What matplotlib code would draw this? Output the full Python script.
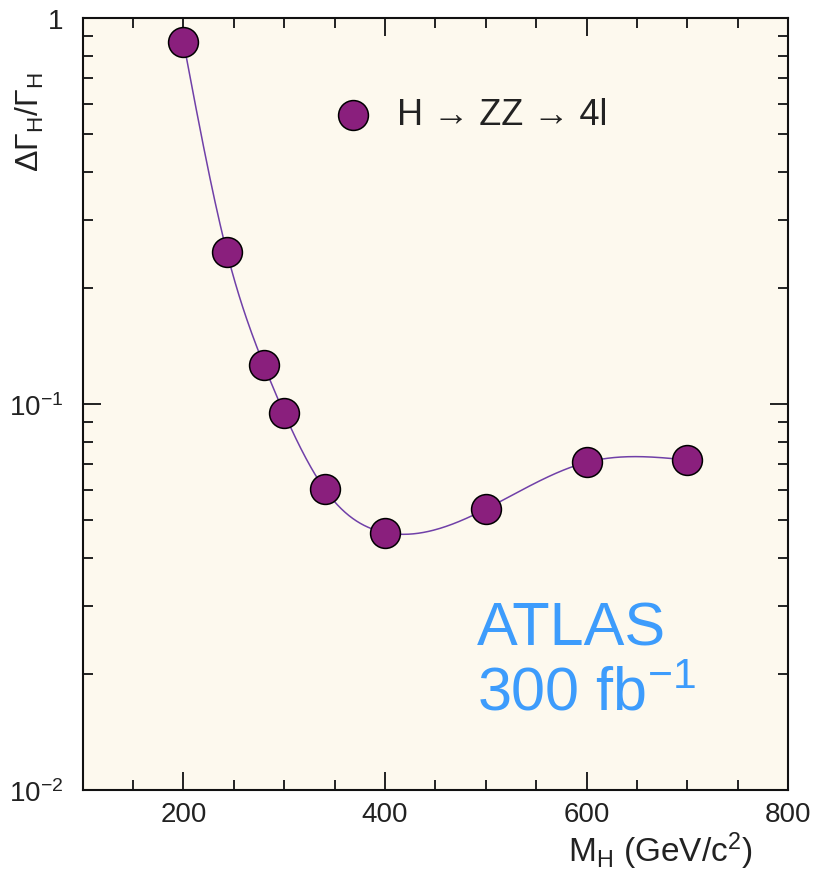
import numpy as np
import matplotlib
matplotlib.use("Agg")
import matplotlib.pyplot as plt
from matplotlib.ticker import FixedLocator, MultipleLocator, LogLocator, NullFormatter

plt.rcParams['font.family'] = ['Liberation Sans', 'DejaVu Sans']
plt.rcParams['mathtext.fontset'] = 'custom'
plt.rcParams['mathtext.rm'] = 'Liberation Sans'
plt.rcParams['mathtext.it'] = 'Liberation Sans:italic'
plt.rcParams['mathtext.bf'] = 'Liberation Sans:bold'

# Higgs mass points (GeV/c^2) and relative width precision for H -> ZZ -> 4l
mass = [200, 243, 280, 300, 340, 400, 500, 600, 700]
rel_width = [0.868, 0.248, 0.126, 0.0947, 0.0603, 0.0465, 0.0535, 0.0707, 0.0717]

x_ticks = [200, 400, 600, 800]
y_ticks = [0.01, 0.1, 1]
y_tick_labels = ["10$^{-2}$", "10$^{-1}$", "1"]


def natural_spline(x, y, xs):
    # natural cubic spline through (x, y), evaluated at xs
    x = np.asarray(x, float)
    y = np.asarray(y, float)
    n = len(x)
    h = np.diff(x)
    A = np.zeros((n, n))
    b = np.zeros(n)
    A[0, 0] = 1
    A[-1, -1] = 1
    for i in range(1, n - 1):
        A[i, i - 1] = h[i - 1]
        A[i, i] = 2 * (h[i - 1] + h[i])
        A[i, i + 1] = h[i]
        b[i] = 6 * ((y[i + 1] - y[i]) / h[i] - (y[i] - y[i - 1]) / h[i - 1])
    M = np.linalg.solve(A, b)
    idx = np.clip(np.searchsorted(x, xs) - 1, 0, n - 2)
    x0, x1 = x[idx], x[idx + 1]
    hh = x1 - x0
    return (M[idx] * (x1 - xs) ** 3 / (6 * hh) + M[idx + 1] * (xs - x0) ** 3 / (6 * hh)
            + (y[idx] / hh - M[idx] * hh / 6) * (x1 - xs)
            + (y[idx + 1] / hh - M[idx + 1] * hh / 6) * (xs - x0))


fig = plt.figure(figsize=(8.14, 8.79), dpi=100)
ax = fig.add_axes([0.1016, 0.100, 0.8666, 0.878])
ax.set_facecolor("#fdf9ee")

# smooth curve through the points (interpolated in log space)
xs = np.linspace(mass[0], mass[-1], 400)
ys = 10 ** natural_spline(mass, np.log10(rel_width), xs)
ax.plot(xs, ys, color="#7040a8", lw=1.1, zorder=2)
ax.plot(mass, rel_width, 'o', ms=21.5, mfc="#8a1f7d", mec="black", mew=1.1, zorder=3)

ax.set_xscale('linear')
ax.set_yscale('log')
ax.set_xlim(100, 800)
ax.set_ylim(0.01, 1)

ax.xaxis.set_major_locator(FixedLocator(x_ticks))
ax.xaxis.set_minor_locator(MultipleLocator(50))
ax.set_xticklabels([str(v) for v in x_ticks])
ax.yaxis.set_major_locator(FixedLocator(y_ticks))
ax.set_yticklabels(y_tick_labels)
ax.yaxis.set_minor_locator(LogLocator(base=10, subs=np.arange(2, 10)))
ax.yaxis.set_minor_formatter(NullFormatter())

ax.tick_params(which='both', direction='in', top=True, right=True, width=1.4,
               color='#222222', labelsize=20, labelcolor='#222222')
ax.tick_params(which='major', length=13)
ax.tick_params(which='minor', length=7)
ax.tick_params(axis='x', pad=8)
ax.tick_params(axis='y', pad=14)
for sp in ax.spines.values():
    sp.set_linewidth(1.5)
    sp.set_color('#111111')

# legend entry
ax.plot([0.383], [0.875], 'o', ms=21.5, mfc="#8a1f7d", mec="black", mew=1.1,
        transform=ax.transAxes, clip_on=False)
ax.text(0.446, 0.875, "H \u2192 ZZ \u2192 4l", transform=ax.transAxes,
        fontsize=26, va='center', ha='left', color='#222222')

# experiment label
ax.text(0.559, 0.189, "ATLAS", transform=ax.transAxes, fontsize=44,
        color="#3d9cfc", ha='left', va='baseline')
ax.text(0.559, 0.105, "300 fb$^{-1}$", transform=ax.transAxes, fontsize=44,
        color="#3d9cfc", ha='left', va='baseline')

# axis titles
fig.text(30 / 814, 1 - 72 / 879, "\u0394\u0393$_{\\rm H}$/\u0393$_{\\rm H}$",
         rotation=90, ha='center', va='top', fontsize=23, color='#222222')
fig.text(752 / 814, 1 - 862 / 879, "M$_{\\rm H}$ (GeV/c$^2$)",
         ha='right', va='baseline', fontsize=24, color='#222222')

fig.savefig("out.png", dpi=100, facecolor='white')
